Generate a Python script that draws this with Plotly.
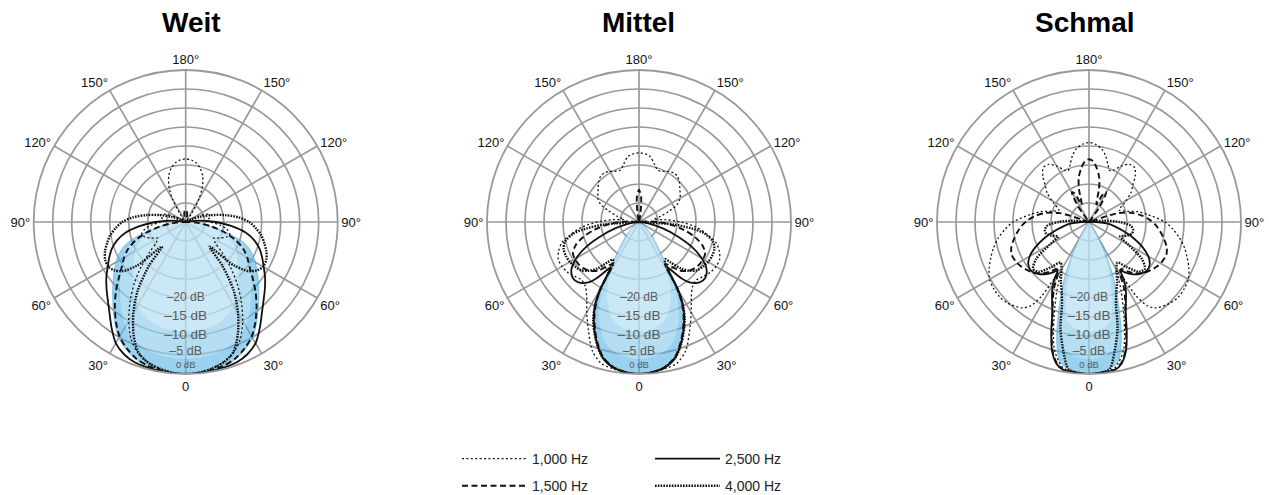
import plotly.graph_objects as go

# ---------------- data ----------------
TITLES = ["Weit", "Mittel", "Schmal"]
FREQS = ["1,000 Hz", "1,500 Hz", "2,500 Hz", "4,000 Hz"]
ANGLE_TICKS = [0, 30, 60, 90, 120, 150, 180, 210, 240, 270, 300, 330]
ANGLE_TEXT = ["0", "30°", "60°", "90°", "120°", "150°", "180°", "150°", "120°", "90°", "60°", "30°"]
DB_TICKS = [-20, -15, -10, -5, 0]
DB_TEXT = ["–20 dB", "–15 dB", "–10 dB", "–5 dB", "0 dB"]

# half patterns (0° .. 180°), symmetric about the 0°-180° axis; values in dB
WEIT_FILL_DEG = [0, 5, 10, 15, 20, 25, 30, 35, 40, 45, 50, 55, 60, 65, 70, 75, 80, 85, 90]
WEIT_FILL_DB = [0, -0.1, -0.3, -0.7, -1.6, -3, -4.8, -7.5, -10.3, -12.8, -15, -17, -18.8, -20.8, -23.5, -28.5, -33.5, -37.5, -40]

WEIT_1000_DEG = [0, 5, 10, 15, 20, 25, 30, 35, 40, 45, 50, 55, 60, 65, 70, 75, 80, 85, 90, 95, 100, 105, 110, 115, 120, 125, 140, 145, 150, 155, 160, 165, 170, 175, 180]
WEIT_1000_DB = [0, -0.2, -0.8, -1.8, -3.3, -6, -10, -14.5, -19, -23.5, -27.5, -30.5, -31.5, -30, -28.5, -28, -29, -31, -33.5, -34.5, -33.5, -33, -34, -36.5, -39, -40, -40, -37.5, -33, -29.5, -27, -25.3, -24.2, -23.6, -23.4]
WEIT_1500_DEG = [0, 5, 10, 15, 20, 25, 30, 35, 40, 45, 50, 55, 60, 65, 70, 75, 80, 85, 90, 95, 160, 165, 170, 175, 180]
WEIT_1500_DB = [0, -0.1, -0.4, -0.9, -1.8, -3.3, -5.2, -8, -11, -14, -17, -19.5, -21.3, -23.3, -26, -29.3, -33, -36.5, -39, -40, -40, -39, -37.8, -37, -36.8]
WEIT_2500_DEG = [0, 5, 10, 15, 20, 25, 30, 35, 40, 45, 50, 55, 60, 65, 70, 75, 80, 85, 90, 95, 100, 105, 180]
WEIT_2500_DB = [0, -0.1, -0.2, -0.4, -0.7, -1.6, -3.2, -6, -8.8, -11, -12.8, -14.5, -16.3, -17.8, -19.3, -21.3, -24, -28, -32, -36, -39, -40, -40]
WEIT_4000_DEG = [0, 5, 10, 15, 20, 25, 30, 35, 40, 44, 48, 52, 56, 60, 65, 70, 75, 80, 85, 90, 95, 100, 105, 110, 115, 120, 180]
WEIT_4000_DB = [0, -0.2, -0.8, -1.7, -3.5, -7.5, -12.5, -18, -25, -31, -23, -19, -17.3, -16.5, -16.6, -17.4, -18.6, -19.8, -21.5, -23.3, -26, -29.5, -33, -36, -38.5, -40, -40]

MITTEL_FILL_DEG = [0, 5, 10, 15, 20, 25, 30, 35, 40, 45, 50, 55]
MITTEL_FILL_DB = [0, -0.3, -1.2, -3, -7, -12.5, -20.5, -30, -33.5, -35.8, -38, -40]

MITTEL_1000_DEG = [0, 5, 10, 15, 20, 25, 30, 35, 40, 45, 50, 55, 60, 65, 70, 75, 80, 85, 90, 95, 100, 105, 110, 115, 120, 125, 130, 135, 140, 145, 150, 155, 160, 165, 170, 175, 180]
MITTEL_1000_DB = [0, -0.3, -0.8, -1.5, -4, -8.5, -12.5, -16, -18, -18.5, -17.8, -17, -16.6, -16.6, -17.5, -19, -22, -25, -29, -33, -36, -34, -31.5, -28.8, -27.5, -26.8, -26, -25, -24.3, -24.2, -24.6, -25.3, -25.5, -24.3, -22.6, -22, -21.8]
MITTEL_1500_DEG = [0, 5, 10, 15, 20, 25, 28, 30, 32, 35, 40, 45, 50, 55, 60, 65, 70, 75, 80, 85, 90, 95, 100, 165, 170, 175, 180]
MITTEL_1500_DB = [0, -0.3, -1.2, -3.3, -7.3, -12.2, -16, -20, -27, -26, -23.3, -21.8, -21, -20.6, -20.5, -20.8, -22.3, -24.8, -28, -31.5, -35, -38, -40, -40, -38, -33.5, -31.5]
MITTEL_2500_DEG = [0, 5, 10, 15, 20, 25, 28, 30, 32, 34, 37, 40, 45, 50, 55, 60, 65, 70, 75, 80, 85, 90, 180]
MITTEL_2500_DB = [0, -0.3, -1.1, -3.1, -7, -11.8, -15.5, -19.5, -26, -24.5, -21.5, -19.3, -17.5, -17.2, -18.3, -21, -24.8, -29.5, -33.5, -36.8, -38.8, -40, -40]
MITTEL_4000_DEG = [0, 5, 10, 15, 20, 25, 28, 30, 32, 35, 38, 42, 46, 50, 55, 60, 65, 70, 75, 80, 83, 86, 90, 180]
MITTEL_4000_DB = [0, -0.3, -1.1, -3, -6.8, -11.5, -15.5, -20, -27, -28, -26.5, -23.5, -21.5, -20.2, -19.5, -19, -18.8, -18.9, -19.8, -22.5, -26, -31, -40, -40]

SCHMAL_FILL_DEG = [0, 5, 10, 12, 14, 16, 18, 20, 22.5, 25, 28, 31, 35, 40]
SCHMAL_FILL_DB = [0, -0.4, -1.6, -2.6, -5.5, -9.2, -13.5, -17.6, -22, -26.3, -31.5, -35, -38.5, -40]

SCHMAL_1000_DEG = [0, 5, 10, 15, 20, 25, 28, 30, 31, 32.5, 35, 38, 45, 50, 55, 60, 65, 70, 75, 80, 85, 90, 97, 102, 107, 112, 118, 125, 130, 135, 140, 145, 150, 155, 158, 162, 166, 170, 175, 180]
SCHMAL_1000_DB = [0, -0.3, -1, -5, -13, -20, -23.5, -24.5, -24, -17, -13, -11.3, -9.8, -9.3, -9.4, -9.8, -11, -12.5, -14, -15.8, -17.8, -20, -24.3, -27, -30.2, -31.5, -29.5, -26.5, -25, -22.8, -21.3, -21.5, -23, -25, -25.4, -24, -22, -20.5, -19.5, -19.1]
SCHMAL_1500_DEG = [0, 5, 10, 13, 16, 19, 22, 25, 28, 31, 34, 38, 42, 47, 52, 57, 62, 67, 72, 77, 82, 87, 92, 97, 102, 107, 112, 140, 145, 150, 153, 157, 160, 163, 167, 172, 176, 180]
SCHMAL_1500_DB = [0, -0.2, -0.6, -2, -5, -10, -14.5, -17.5, -20.5, -24, -25, -23.5, -21.8, -20.3, -19.4, -18.6, -18.1, -17.9, -18.5, -19.7, -21, -22.3, -24, -26, -28.5, -32, -40, -40, -35, -31, -31.5, -35, -34, -31, -28, -25.6, -24, -23.5]
SCHMAL_2500_DEG = [0, 5, 10, 13, 16, 19, 22, 25, 28, 31, 33, 36, 40, 45, 50, 55, 60, 65, 70, 75, 80, 85, 90, 95, 180]
SCHMAL_2500_DB = [0, -0.2, -0.5, -1.8, -4.7, -9.5, -14.2, -17, -19.3, -22, -24.8, -23.5, -22, -20.8, -20.1, -20.5, -22, -24.5, -27.5, -30.5, -33, -35, -38, -40, -40]
SCHMAL_4000_DEG = [0, 5, 8, 11, 15, 18, 21, 25, 30, 35, 40, 45, 50, 55, 60, 65, 70, 75, 80, 85, 90, 95, 100, 180]
SCHMAL_4000_DB = [0, -0.3, -0.9, -5, -11, -17, -20, -22.5, -25.5, -27, -24.5, -21.5, -20.8, -23, -28, -31, -29.5, -28.3, -28.2, -29, -32, -36, -40, -40]

CHARTS = [
    (WEIT_FILL_DEG, WEIT_FILL_DB, [(WEIT_1000_DEG, WEIT_1000_DB), (WEIT_1500_DEG, WEIT_1500_DB), (WEIT_2500_DEG, WEIT_2500_DB), (WEIT_4000_DEG, WEIT_4000_DB)]),
    (MITTEL_FILL_DEG, MITTEL_FILL_DB, [(MITTEL_1000_DEG, MITTEL_1000_DB), (MITTEL_1500_DEG, MITTEL_1500_DB), (MITTEL_2500_DEG, MITTEL_2500_DB), (MITTEL_4000_DEG, MITTEL_4000_DB)]),
    (SCHMAL_FILL_DEG, SCHMAL_FILL_DB, [(SCHMAL_1000_DEG, SCHMAL_1000_DB), (SCHMAL_1500_DEG, SCHMAL_1500_DB), (SCHMAL_2500_DEG, SCHMAL_2500_DB), (SCHMAL_4000_DEG, SCHMAL_4000_DB)]),
]

# ---------------- styling ----------------
W, H = 1269, 495
R_MIN, R_MAX = -40, 0
FONT = "Liberation Sans, Arial, Helvetica, sans-serif"
GRID = "#999999"
LINE_STYLE = {
    "1,000 Hz": dict(color="#111", width=1.3, dash="2px,2.4px"),
    "1,500 Hz": dict(color="#111", width=1.9, dash="6px,3.5px"),
    "2,500 Hz": dict(color="#111", width=1.8, dash="solid"),
    "4,000 Hz": dict(color="#111", width=2.4, dash="1.6px,1.2px"),
}
LEGEND_OF = {"1,000 Hz": "legend", "1,500 Hz": "legend", "2,500 Hz": "legend2", "4,000 Hz": "legend2"}
CENTERS_PX = [185.7, 639, 1089]
TITLE_X_PX = [191, 639, 1085]
CENTER_Y_PX = 222
RADIUS_PX = 152
LABEL_SHIFT = [0, 0, 0, -0.8, -2.3]
LABEL_SIZE = [12, 13.5, 13.5, 12.5, 9.5]
# (radial scale, fill colour, rim colour) layers that fake the soft blue gradient
GRADIENT = [(1.0, "rgba(80,175,226,0.58)", "rgba(70,165,220,0.55)"),
            (0.9, "rgba(255,255,255,0.28)", "rgba(0,0,0,0)"),
            (0.72, "rgba(255,255,255,0.30)", "rgba(0,0,0,0)")]


def mirror(deg, db):
    th = list(deg) + [360 - d for d in reversed(deg[:-1])]
    r = list(db) + list(reversed(db[:-1]))
    return th, r


fig = go.Figure()
layout_polars = {}
annotations = []
for i, (fdeg, fdb, curves) in enumerate(CHARTS):
    sub = "polar" if i == 0 else f"polar{i + 1}"
    th, r = mirror(fdeg, fdb)
    for scale, col, rim in GRADIENT:
        rs = [R_MIN + (v - R_MIN) * scale for v in r]
        fig.add_trace(go.Scatterpolar(r=rs, theta=th, subplot=sub, mode="lines",
                                      line=dict(width=1 if scale == 1.0 else 0, shape="spline", color=rim),
                                      fill="toself", fillcolor=col, showlegend=False, hoverinfo="skip"))
    for name, (deg, db) in zip(FREQS, curves):
        th, r = mirror(deg, db)
        fig.add_trace(go.Scatterpolar(r=r, theta=th, subplot=sub, mode="lines", name=name,
                                      line=dict(shape="spline", smoothing=0.8, **LINE_STYLE[name]),
                                      legendgroup=name, showlegend=(i == 0), legend=LEGEND_OF[name],
                                      hoverinfo="skip"))
    fig.add_trace(go.Scatterpolar(r=[v + s for v, s in zip(DB_TICKS, LABEL_SHIFT)], theta=[0] * len(DB_TICKS),
                                  subplot=sub, mode="text", text=DB_TEXT,
                                  textfont=dict(size=LABEL_SIZE, color="#5b5b5b", family=FONT),
                                  showlegend=False, hoverinfo="skip"))
    cx = CENTERS_PX[i] / W
    hw = RADIUS_PX / W
    cy = 1 - CENTER_Y_PX / H
    hh = RADIUS_PX / H
    layout_polars[sub] = dict(
        domain=dict(x=[cx - hw, cx + hw], y=[cy - hh, cy + hh]),
        bgcolor="rgba(0,0,0,0)",
        angularaxis=dict(rotation=270, direction="counterclockwise", tickmode="array",
                         tickvals=ANGLE_TICKS, ticktext=ANGLE_TEXT, ticks="",
                         showline=True, linecolor=GRID, linewidth=1.8,
                         showgrid=True, gridcolor=GRID, gridwidth=1.7,
                         tickfont=dict(size=13, color="#111", family=FONT)),
        radialaxis=dict(range=[R_MIN, R_MAX], tickmode="linear", tick0=R_MIN, dtick=5,
                        showticklabels=False, ticks="", showline=False,
                        showgrid=True, gridcolor=GRID, gridwidth=1.7),
    )
    annotations.append(dict(text=f"<b>{TITLES[i]}</b>", x=TITLE_X_PX[i] / W, y=1 - 23 / H,
                            xref="paper", yref="paper",
                            xanchor="center", yanchor="middle", showarrow=False,
                            font=dict(size=28, color="#000", family=FONT)))

leg_common = dict(orientation="v", xanchor="left", yanchor="bottom", bgcolor="rgba(0,0,0,0)",
                  font=dict(size=14, color="#222", family=FONT), itemwidth=65,
                  traceorder="grouped", tracegroupgap=6)
fig.update_layout(
    width=W, height=H, margin=dict(l=0, r=0, t=0, b=0, autoexpand=False),
    paper_bgcolor="white", plot_bgcolor="white",
    showlegend=True,
    legend=dict(x=457 / W, y=-7 / H, **leg_common),
    legend2=dict(x=650 / W, y=-7 / H, **leg_common),
    annotations=annotations,
    **layout_polars,
)
fig.write_html("out.html", config={"displayModeBar": False, "staticPlot": True},
               post_script="document.body.style.margin='0';document.body.style.overflow='hidden';")
